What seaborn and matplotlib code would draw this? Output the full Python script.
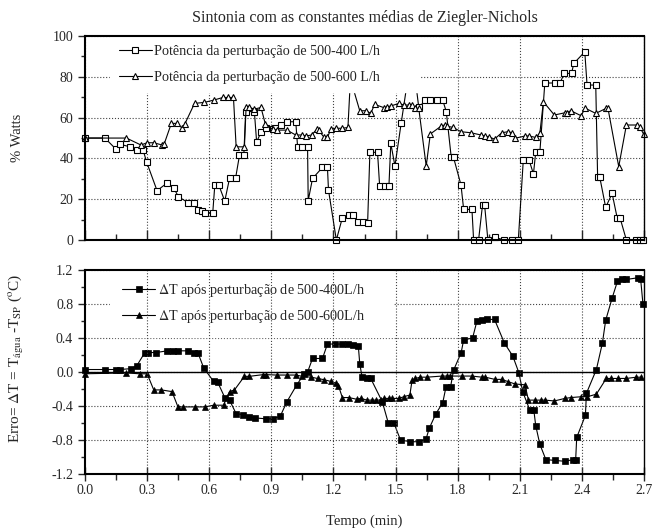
import numpy as np
import pandas as pd
import seaborn as sns
import matplotlib
matplotlib.use('Agg')
import matplotlib.pyplot as plt
from matplotlib.ticker import MultipleLocator, FormatStrFormatter

# --- dados ---
# painel superior: potencia (% Watts)
t_p400 = [0.0, 0.096, 0.149, 0.168, 0.217, 0.249, 0.281, 0.297, 0.348, 0.398,
          0.428, 0.451, 0.499, 0.528, 0.547, 0.566, 0.579, 0.617, 0.627, 0.646,
          0.675, 0.698, 0.727, 0.746, 0.767, 0.776, 0.818, 0.829, 0.85, 0.874,
          0.906, 0.919, 0.946, 0.978, 1.018, 1.027, 1.05, 1.075, 1.078, 1.099,
          1.147, 1.171, 1.176, 1.214, 1.243, 1.275, 1.296, 1.319, 1.343, 1.365,
          1.376, 1.413, 1.423, 1.448, 1.468, 1.477, 1.497, 1.527, 1.579, 1.612,
          1.644, 1.668, 1.70, 1.728, 1.745, 1.769, 1.78, 1.816, 1.829, 1.869,
          1.877, 1.901, 1.92, 1.93, 1.946, 1.978, 2.026, 2.064, 2.093, 2.117,
          2.145, 2.166, 2.177, 2.197, 2.221, 2.27, 2.294, 2.315, 2.35, 2.361,
          2.414, 2.425, 2.467, 2.476, 2.486, 2.515, 2.546, 2.571, 2.585, 2.615,
          2.663, 2.679, 2.695]
p400 = [50, 50, 44.6, 47, 45.7, 44, 44, 38.4, 24.2, 28.1,
        25.7, 21.2, 18.3, 18.3, 14.7, 14.4, 13.4, 13.4, 27, 27,
        19.1, 30.2, 30.2, 41.5, 41.5, 63, 63, 48, 53, 54.7,
        54.3, 54.7, 56.4, 58, 58, 45.4, 45.4, 45.4, 19.3, 30.2,
        35.6, 35.6, 24.5, 0, 10.9, 12.3, 12.3, 8.7, 8.7, 8.2,
        43, 43, 26.6, 26.6, 26.6, 47.4, 36.3, 57.2, 92.6, 65,
        68.5, 68.5, 68.6, 68.6, 62.9, 40.5, 40.5, 27, 15, 15,
        0, 0, 17.2, 17.2, 0, 1.3, 0, 0, 0, 39.2,
        39.2, 32.4, 43, 43, 77, 77, 77, 81.7, 81.7, 86.6,
        92.3, 76, 76, 31, 31, 16, 22.9, 10.6, 10.6, 0,
        0, 0, 0]

t_p600 = [0.0, 0.2, 0.27, 0.30, 0.332, 0.372, 0.382, 0.417, 0.444, 0.47,
          0.481, 0.529, 0.577, 0.621, 0.666, 0.69, 0.717, 0.73, 0.77, 0.778,
          0.794, 0.818, 0.85, 0.871, 0.906, 0.927, 0.975, 1.018, 1.046, 1.067,
          1.094, 1.12, 1.128, 1.155, 1.171, 1.187, 1.211, 1.243, 1.27, 1.282,
          1.327, 1.358, 1.38, 1.399, 1.444, 1.46, 1.479, 1.516, 1.54, 1.564,
          1.58, 1.596, 1.612, 1.648, 1.668, 1.721, 1.737, 1.748, 1.777, 1.817,
          1.864, 1.913, 1.93, 1.949, 1.978, 2.013, 2.042, 2.064, 2.077, 2.125,
          2.145, 2.177, 2.197, 2.214, 2.267, 2.318, 2.326, 2.347, 2.395, 2.417,
          2.467, 2.518, 2.526, 2.578, 2.615, 2.668, 2.679, 2.698]
p600 = [50, 50, 46.6, 47.7, 47.7, 46.6, 47, 57.2, 57.2, 54.8,
        56.7, 67, 67.5, 68.6, 69.9, 69.9, 69.9, 45.7, 45.7, 65,
        65, 64.2, 65, 56.9, 54.3, 53.9, 53.9, 51.5, 51.5, 51,
        51.5, 54.3, 53.9, 50.3, 50.3, 54.3, 54.8, 54.8, 55.2, 79,
        63.4, 63.4, 62.1, 66.5, 64.9, 65.3, 65.8, 67, 66.2, 66.2,
        66.2, 64.6, 64.6, 36.3, 52, 55.9, 56.4, 55.9, 55.2, 53.1,
        52.6, 51.5, 51, 50.6, 49.5, 52.6, 53.1, 52.6, 49.9, 51,
        51, 50.3, 52.3, 67.8, 61.3, 62.4, 62.4, 63.4, 61, 64.6,
        62.1, 64.6, 64.6, 36, 56.4, 56.4, 55.5, 52]

# painel inferior: erro (ΔT, °C)
t_e400 = [0.0, 0.096, 0.152, 0.168, 0.22, 0.249, 0.289, 0.305, 0.345, 0.396,
          0.425, 0.449, 0.497, 0.526, 0.545, 0.573, 0.621, 0.641, 0.677, 0.698,
          0.73, 0.762, 0.791, 0.823, 0.874, 0.906, 0.943, 0.975, 1.023, 1.059,
          1.075, 1.099, 1.147, 1.171, 1.208, 1.243, 1.272, 1.294, 1.32, 1.327,
          1.338, 1.363, 1.38, 1.436, 1.465, 1.492, 1.524, 1.572, 1.612, 1.647,
          1.663, 1.695, 1.728, 1.744, 1.766, 1.78, 1.817, 1.829, 1.872, 1.893,
          1.917, 1.941, 1.978, 2.026, 2.066, 2.096, 2.114, 2.149, 2.168, 2.177,
          2.197, 2.226, 2.27, 2.318, 2.358, 2.37, 2.375, 2.417, 2.422, 2.47,
          2.499, 2.515, 2.546, 2.572, 2.594, 2.615, 2.671, 2.684, 2.695]
e400 = [0.03, 0.03, 0.03, 0.03, 0.04, 0.07, 0.23, 0.23, 0.23, 0.25,
        0.25, 0.25, 0.25, 0.23, 0.23, 0.05, -0.11, -0.12, -0.31, -0.33,
        -0.49, -0.50, -0.53, -0.54, -0.55, -0.55, -0.52, -0.35, -0.15, -0.02,
        0.0, 0.16, 0.16, 0.33, 0.33, 0.33, 0.33, 0.32, 0.31, 0.10,
        -0.055, -0.067, -0.075, -0.35, -0.60, -0.60, -0.80, -0.82, -0.82, -0.79,
        -0.66, -0.49, -0.36, -0.17, -0.17, 0.02, 0.23, 0.38, 0.40, 0.60,
        0.61, 0.62, 0.62, 0.34, 0.19, -0.01, -0.23, -0.45, -0.45, -0.63,
        -0.85, -1.03, -1.04, -1.05, -1.03, -1.03, -0.77, -0.51, -0.25, 0.03,
        0.34, 0.61, 0.87, 1.07, 1.09, 1.09, 1.11, 1.09, 0.80]

t_e600 = [0.0, 0.197, 0.265, 0.30, 0.332, 0.369, 0.42, 0.449, 0.473, 0.529,
          0.58, 0.621, 0.669, 0.698, 0.722, 0.77, 0.794, 0.861, 0.874, 0.925,
          0.978, 1.018, 1.05, 1.091, 1.123, 1.155, 1.187, 1.211, 1.224, 1.243,
          1.275, 1.312, 1.331, 1.363, 1.387, 1.406, 1.428, 1.444, 1.468, 1.484,
          1.516, 1.54, 1.569, 1.58, 1.596, 1.62, 1.652, 1.724, 1.748, 1.764,
          1.82, 1.869, 1.917, 1.933, 1.98, 2.013, 2.045, 2.077, 2.125, 2.142,
          2.174, 2.203, 2.222, 2.267, 2.318, 2.347, 2.398, 2.427, 2.47, 2.518,
          2.542, 2.575, 2.615, 2.663, 2.687]
e600 = [-0.02, -0.01, -0.02, -0.02, -0.21, -0.21, -0.23, -0.41, -0.41, -0.41,
        -0.41, -0.39, -0.39, -0.23, -0.21, -0.05, -0.05, -0.03, -0.03, -0.035,
        -0.035, -0.035, -0.05, -0.06, -0.075, -0.09, -0.11, -0.13, -0.16, -0.30,
        -0.30, -0.32, -0.31, -0.33, -0.33, -0.33, -0.33, -0.31, -0.31, -0.31,
        -0.31, -0.29, -0.27, -0.094, -0.075, -0.06, -0.06, -0.047, -0.047, -0.047,
        -0.047, -0.047, -0.06, -0.06, -0.086, -0.086, -0.114, -0.14, -0.15, -0.33,
        -0.33, -0.33, -0.33, -0.34, -0.31, -0.30, -0.29, -0.29, -0.26, -0.075,
        -0.075, -0.075, -0.075, -0.06, -0.06]

lab_p400 = 'Potência da perturbação de 500-400 L/h'
lab_p600 = 'Potência da perturbação de 500-600 L/h'
lab_e400 = r'$\Delta$T após perturbação de 500-400L/h'
lab_e600 = r'$\Delta$T após perturbação de 500-600L/h'

sns.set_theme(style='ticks')
plt.rcParams['font.family'] = ['Liberation Serif', 'DejaVu Serif']
plt.rcParams['mathtext.fontset'] = 'stix'
plt.rcParams['font.size'] = 10

fig = plt.figure(figsize=(6.53, 5.31), dpi=100)
ax1 = fig.add_axes([0.1302, 0.548, 0.856, 0.384])
ax2 = fig.add_axes([0.1302, 0.1073, 0.856, 0.384])

df_p400 = pd.DataFrame({'t': t_p400, 'v': p400})
df_p600 = pd.DataFrame({'t': t_p600, 'v': p600})
df_e400 = pd.DataFrame({'t': t_e400, 'v': e400})
df_e600 = pd.DataFrame({'t': t_e600, 'v': e600})

line_kw = dict(color='black', lw=0.8, sort=False, estimator=None, clip_on=False)
grid_kw = dict(ls=':', lw=0.8, color='#444444')
leg_kw = dict(loc='upper left', mode='expand', borderaxespad=0, frameon=True,
              fancybox=False, framealpha=1, edgecolor='white', facecolor='white',
              fontsize=10.2, handlelength=2.3, handletextpad=0.2)

# 1. painel superior
sns.lineplot(data=df_p400, x='t', y='v', ax=ax1, marker='s', ms=4, mfc='white',
             mec='black', mew=0.8, label=lab_p400, **line_kw)
sns.lineplot(data=df_p600, x='t', y='v', ax=ax1, marker='^', ms=5, mfc='white',
             mec='black', mew=0.8, label=lab_p600, **line_kw)

ax1.set_xlim(0, 2.7)
ax1.set_ylim(0, 100)
ax1.xaxis.set_major_locator(MultipleLocator(0.3))
ax1.xaxis.set_minor_locator(MultipleLocator(0.15))
ax1.yaxis.set_major_locator(MultipleLocator(20))
ax1.yaxis.set_minor_locator(MultipleLocator(10))
ax1.tick_params(axis='x', which='both', direction='in', labelbottom=False)
ax1.tick_params(axis='x', which='major', length=7, width=1)
ax1.tick_params(axis='x', which='minor', length=4, width=1)
ax1.tick_params(axis='y', which='major', direction='out', length=5, width=1, labelsize=10)
ax1.tick_params(axis='y', which='minor', direction='out', length=3, width=1)
ax1.grid(True, which='major', **grid_kw)
ax1.set_xlabel('')
ax1.set_ylabel('% Watts', fontsize=10.5)
ax1.yaxis.set_label_coords(-0.11, 0.5)
ax1.set_title('Sintonia com as constantes médias de Ziegler-Nichols', fontsize=11.5, pad=10)
ax1.legend(bbox_to_anchor=(0.045, 1.0, 0.552, 0.0), labelspacing=0.9, borderpad=0.62,
           **leg_kw)

# 2. painel inferior
sns.lineplot(data=df_e400, x='t', y='v', ax=ax2, marker='s', ms=3.8, mfc='black',
             mec='black', mew=0.5, label=lab_e400, **line_kw)
sns.lineplot(data=df_e600, x='t', y='v', ax=ax2, marker='^', ms=5, mfc='black',
             mec='black', mew=0.5, label=lab_e600, **line_kw)

ax2.axhline(0, color='black', lw=1.0, zorder=1)
ax2.set_xlim(0, 2.7)
ax2.set_ylim(-1.2, 1.2)
ax2.xaxis.set_major_locator(MultipleLocator(0.3))
ax2.xaxis.set_minor_locator(MultipleLocator(0.15))
ax2.yaxis.set_major_locator(MultipleLocator(0.4))
ax2.yaxis.set_minor_locator(MultipleLocator(0.2))
ax2.xaxis.set_major_formatter(FormatStrFormatter('%.1f'))
ax2.yaxis.set_major_formatter(FormatStrFormatter('%.1f'))
ax2.tick_params(axis='x', which='major', direction='inout', length=10, width=1,
                labelsize=10, pad=2)
ax2.tick_params(axis='x', which='minor', direction='out', length=4, width=1)
ax2.tick_params(axis='y', which='major', direction='out', length=5, width=1, labelsize=10)
ax2.tick_params(axis='y', which='minor', direction='out', length=3, width=1)
ax2.grid(True, axis='y', which='major', **grid_kw)
for xv in np.arange(0.3, 2.5, 0.3):
    ax2.axvline(xv, zorder=6, **grid_kw)
ax2.set_xlabel('Tempo (min)', fontsize=10.5, labelpad=13)
ax2.set_ylabel(r'Erro= $\Delta$T = T$_{\mathrm{água}}$ -T$_{\mathrm{SP}}$ ($^{\mathrm{o}}$C)',
               fontsize=11)
ax2.yaxis.set_label_coords(-0.105, 0.565)
ax2.legend(bbox_to_anchor=(0.045, 1.0, 0.505, 0.0), labelspacing=0.62, borderpad=0.85,
           **leg_kw)

for ax in (ax1, ax2):
    for side in ('left', 'bottom', 'top'):
        ax.spines[side].set_linewidth(1.5)
    ax.spines['right'].set_linewidth(1.0)
    for s in ax.spines.values():
        s.set_color('black')
        s.set_zorder(7)

fig.savefig('out.png', dpi=100)
